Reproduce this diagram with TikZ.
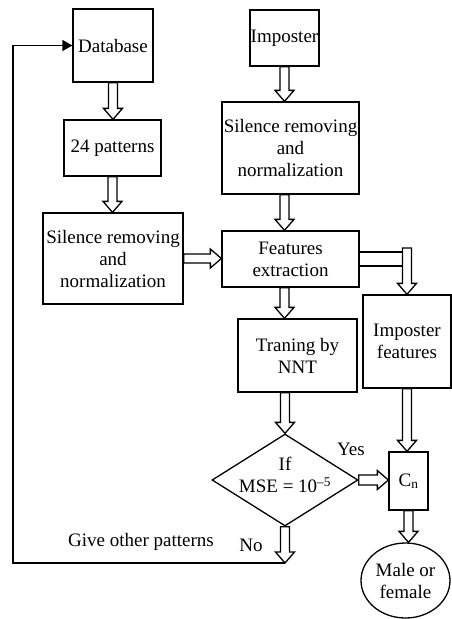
\documentclass[tikz,border=0pt]{standalone}
\usepackage{fontspec}
\setmainfont{Liberation Serif}
\usetikzlibrary{arrows.meta,calc,positioning,shapes.geometric}

\begin{document}
\begin{tikzpicture}[
      x=1pt, y=-1pt,
      >={Triangle[length=10pt,width=11pt]},
      stepBox/.style={
        draw=black, line width=1.3pt, align=center,
        font=\fontsize{19}{22}\selectfont, inner sep=0pt
      },
      decisionBox/.style={
        draw=black, line width=1.3pt, diamond, inner sep=0pt,
        minimum width=146pt, minimum height=92pt
      },
      resultOval/.style={
        draw=black, line width=1.3pt, ellipse, align=center,
        font=\fontsize{19}{22}\selectfont, inner sep=0pt,
        minimum width=89pt, minimum height=75pt
      },
      flowLabel/.style={font=\fontsize{19}{22}\selectfont, align=center, inner sep=0pt},
      loopLine/.style={draw=black, line width=1.3pt, ->},
      % hollow block arrow, shaft half width #1
      hollow/.style={
        draw=black, line width=1.3pt, fill=white, line join=miter,
        to path={
          ($(\tikztostart)!#1!90:(\tikztotarget)$)
          -- ($($(\tikztotarget)!11pt!(\tikztostart)$)!#1!90:(\tikztotarget)$)
          -- ($($(\tikztotarget)!11pt!(\tikztostart)$)!9.5pt!90:(\tikztotarget)$)
          -- (\tikztotarget)
          -- ($($(\tikztotarget)!11pt!(\tikztostart)$)!9.5pt!-90:(\tikztotarget)$)
          -- ($($(\tikztotarget)!11pt!(\tikztostart)$)!#1!-90:(\tikztotarget)$)
          -- ($(\tikztostart)!#1!-90:(\tikztotarget)$)
          -- cycle
        }
      },
      hollow/.default=4.5pt,
      % two parallel lines, no head
      shaft/.style={
        draw=black, line width=1.3pt,
        to path={
          ($(\tikztostart)!#1!90:(\tikztotarget)$) -- ($(\tikztotarget)!#1!-90:(\tikztostart)$)
          ($(\tikztostart)!#1!-90:(\tikztotarget)$) -- ($(\tikztotarget)!#1!90:(\tikztostart)$)
        }
      },
      shaft/.default=7pt
    ]
      \useasboundingbox (0,0) rectangle (452,619);

      % ---------- boxes ----------
      \node[stepBox, minimum width=80pt, minimum height=73pt] (db) at (113,45.5) {Database};
      \node[stepBox, minimum width=97pt, minimum height=56pt] (pat) at (112.5,148) {24 patterns};
      \node[stepBox, minimum width=140pt, minimum height=91pt] (silL) at (113,258.5) {Silence removing\\and\\normalization};

      \node[stepBox, minimum width=69pt, minimum height=56pt] (imp) at (284.5,38) {Imposter};
      \node[stepBox, minimum width=137pt, minimum height=92pt] (silR) at (290.5,148) {Silence removing\\and\\normalization};
      \node[stepBox, minimum width=137pt, minimum height=56pt] (feat) at (290.5,259) {Features\\extraction};
      \node[stepBox, minimum width=119pt, minimum height=73pt] (nnt) at (297.5,355.5) {Traning by\\NNT};
      \node[stepBox, minimum width=88pt, minimum height=93pt] (impf) at (407,341.5) {Imposter\\features};

      \node[decisionBox, label={[flowLabel, yshift=5pt]center:{If\\MSE = 10\textsuperscript{–5}}}] (dia) at (285,480) {};
      \node[stepBox, minimum width=39pt, minimum height=58pt] (cn) at (408.5,481) {C\textsubscript{n}};
      \node[resultOval] (mf) at (405.5,580.5) {Male or\\female};

      % ---------- labels ----------
      \node[flowLabel] (yes) at (351,449) {Yes};
      \node[flowLabel] (no) at (251,545) {No};
      \node[flowLabel] (give) at (141,542) {Give other patterns};

      \coordinate (fork) at (407,248);
      \coordinate (back) at (285,563);
      \coordinate (lft) at (13,563);

      % ---------- arrows ----------
      \draw[hollow] (db.south) to (db.south |- pat.north);
      \draw[hollow] (pat.south) to (pat.south |- silL.north);
      \draw[hollow] (silL.east) to (silL.east -| feat.west);

      \draw[hollow] (imp.south) to (imp.south |- silR.north);
      \draw[hollow] (silR.south -| imp.south) to (feat.north -| imp.south);
      \draw[hollow] (feat.south -| imp.south) to (nnt.north -| imp.south);
      \draw[hollow] (nnt.south -| dia.north) to (dia.north);

      \draw[shaft] (feat.east) to (feat.east -| fork);
      \draw[hollow] (fork) to (impf.north);

      \draw[hollow=5pt] (dia.east) to (dia.east -| cn.west);
      \draw[hollow] (impf.south) to (impf.south |- cn.north);
      \draw[hollow] (cn.south) to (cn.south |- mf.north);

      % ---------- loop back ----------
      \draw[hollow] (dia.south) to (back);
      \draw[loopLine] (back) -- (lft) |- (db.west);

\end{tikzpicture}
\end{document}
